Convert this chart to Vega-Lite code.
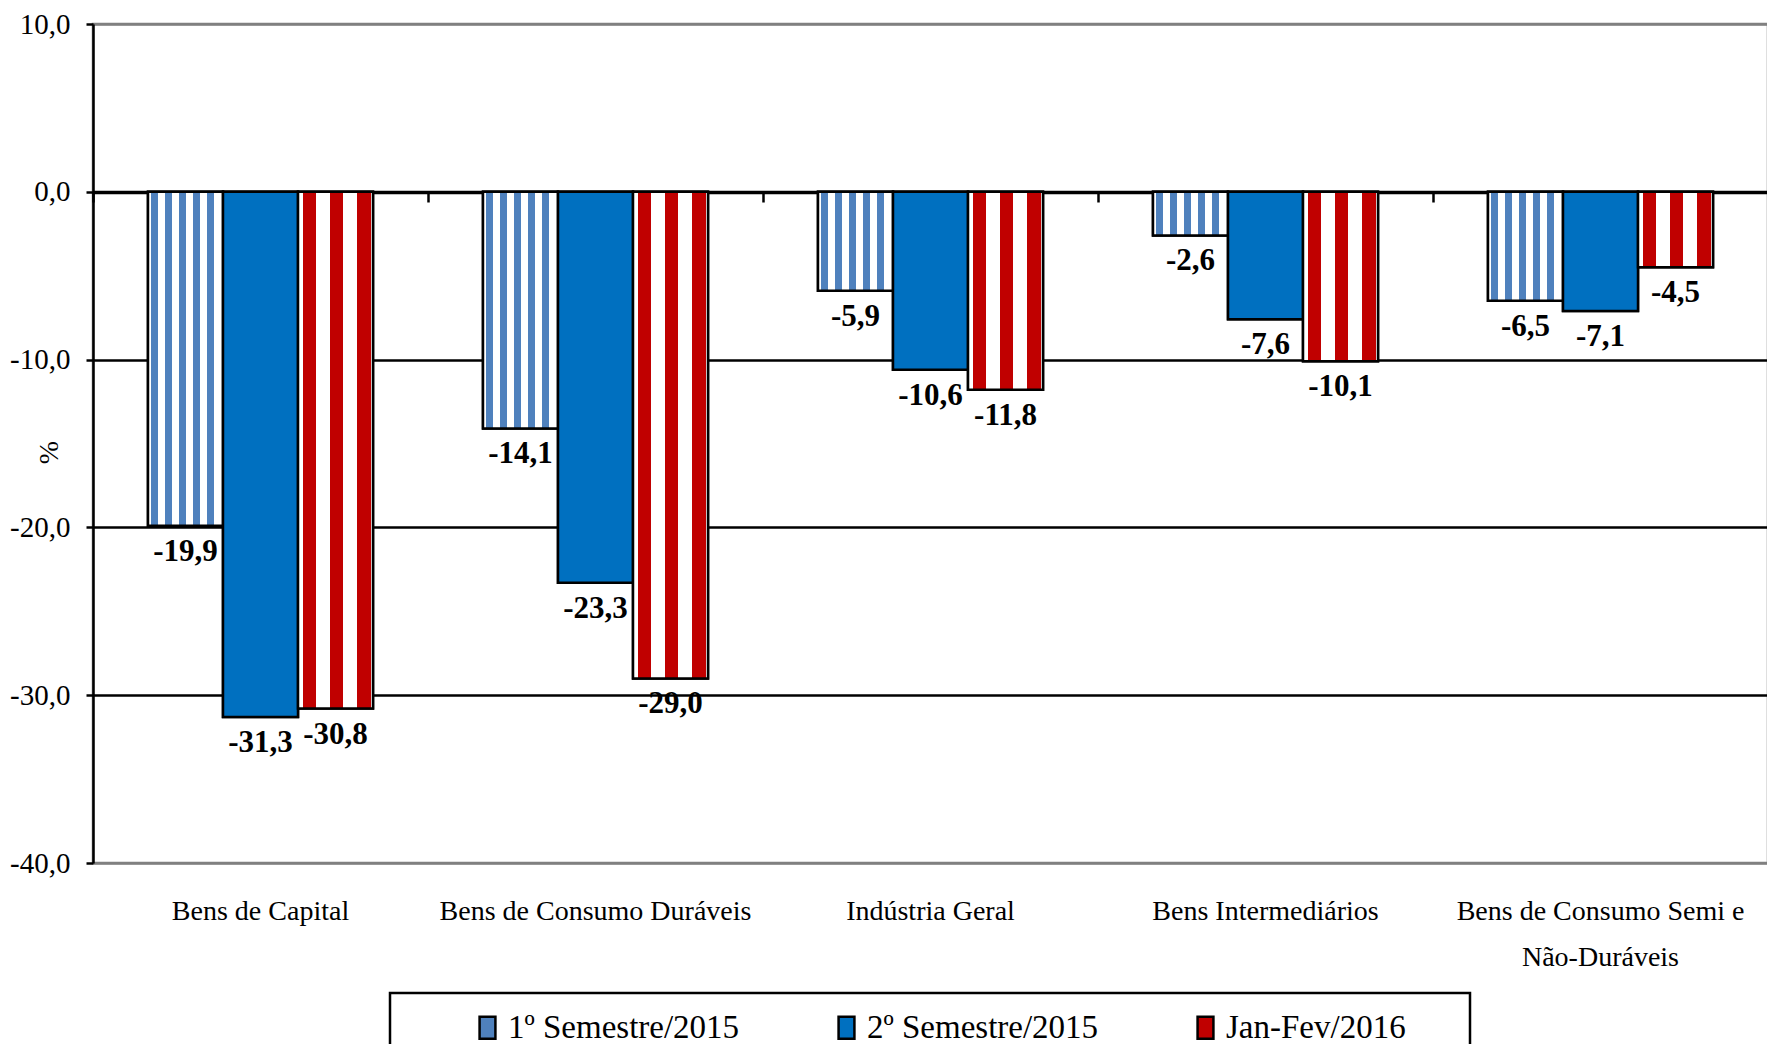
{
  "$schema": "https://vega.github.io/schema/vega-lite/v6.json",
  "width": 1675,
  "height": 839,
  "autosize": {"type": "none"},
  "padding": {"left": 93, "top": 24, "right": 0, "bottom": 181},
  "background": "white",
  "data": {
    "values": [
      {"cat": "Bens de Capital", "serie": "1º Semestre/2015", "valor": -19.9},
      {"cat": "Bens de Capital", "serie": "2º Semestre/2015", "valor": -31.3},
      {"cat": "Bens de Capital", "serie": "Jan-Fev/2016", "valor": -30.8},
      {"cat": "Bens de Consumo Duráveis", "serie": "1º Semestre/2015", "valor": -14.1},
      {"cat": "Bens de Consumo Duráveis", "serie": "2º Semestre/2015", "valor": -23.3},
      {"cat": "Bens de Consumo Duráveis", "serie": "Jan-Fev/2016", "valor": -29.0},
      {"cat": "Indústria Geral", "serie": "1º Semestre/2015", "valor": -5.9},
      {"cat": "Indústria Geral", "serie": "2º Semestre/2015", "valor": -10.6},
      {"cat": "Indústria Geral", "serie": "Jan-Fev/2016", "valor": -11.8},
      {"cat": "Bens Intermediários", "serie": "1º Semestre/2015", "valor": -2.6},
      {"cat": "Bens Intermediários", "serie": "2º Semestre/2015", "valor": -7.6},
      {"cat": "Bens Intermediários", "serie": "Jan-Fev/2016", "valor": -10.1},
      {"cat": "Bens de Consumo Semi e Não-Duráveis", "serie": "1º Semestre/2015", "valor": -6.5},
      {"cat": "Bens de Consumo Semi e Não-Duráveis", "serie": "2º Semestre/2015", "valor": -7.1},
      {"cat": "Bens de Consumo Semi e Não-Duráveis", "serie": "Jan-Fev/2016", "valor": -4.5}
    ]
  },
  "layer": [
    {
      "mark": {"type": "bar", "stroke": "black", "strokeWidth": 2.5},
      "encoding": {
        "x": {
          "field": "cat", "type": "nominal", "sort": null,
          "scale": {"paddingInner": 0, "paddingOuter": 0},
          "axis": {
            "orient": "bottom", "title": null, "domain": false, "ticks": false, "tickSize": 0, "grid": false,
            "labelAngle": 0, "labelFont": "Liberation Serif", "labelFontSize": 28, "labelColor": "black",
            "labelPadding": 34, "labelLimit": 500, "labelLineHeight": 46, "labelBaseline": "top",
            "labelExpr": "datum.label == 'Bens de Consumo Semi e Não-Duráveis' ? ['Bens de Consumo Semi e', 'Não-Duráveis'] : datum.label"
          }
        },
        "xOffset": {
          "field": "serie", "type": "nominal", "sort": null,
          "scale": {"paddingInner": 0, "paddingOuter": 0.733}
        },
        "y": {
          "field": "valor", "type": "quantitative",
          "scale": {"domain": [-40, 10], "nice": false, "zero": false},
          "axis": {
            "values": [-40, -30, -20, -10, 0, 10], "format": ".1f",
            "title": "%", "titleFont": "Liberation Serif", "titleFontSize": 28, "titleFontWeight": "normal",
            "titleColor": "black", "titleX": -44, "titleY": 428, "titleAngle": -90,
            "titleAlign": "center", "titleBaseline": "middle",
            "labelFont": "Liberation Serif", "labelFontSize": 29, "labelColor": "black", "labelPadding": 16,
            "domain": true, "domainColor": "black", "domainWidth": 2.5,
            "ticks": true, "tickColor": "black", "tickWidth": 2.5, "tickSize": 7,
            "grid": true, "gridWidth": 2.5,
            "gridColor": {"condition": {"test": "datum.value === 10 || datum.value === -40", "value": "#808080"}, "value": "black"}
          }
        },
        "fill": {
          "field": "serie", "type": "nominal", "sort": null,
          "scale": {
            "domain": ["1º Semestre/2015", "2º Semestre/2015", "Jan-Fev/2016"],
            "range": ["#4F81BD", "#0070C0", "#C00000"]
          },
          "legend": {
            "title": " ", "titleOrient": "right", "titlePadding": 46, "titleFontSize": 20,
            "orient": "none", "legendX": 297, "legendY": 969,
            "direction": "horizontal", "columns": 3, "gridAlign": "all",
            "padding": 18, "strokeColor": "black", "fillColor": "white",
            "symbolOffset": 63, "labelOffset": 4, "columnPadding": 27, "labelLimit": 500,
            "encode": {"legend": {"update": {"strokeWidth": {"value": 2.5}}}}
          }
        }
      }
    },
    {
      "mark": {"type": "bar", "stroke": "black", "strokeWidth": 2.5},
      "encoding": {
        "x": {"field": "cat", "type": "nominal", "sort": null, "axis": null},
        "xOffset": {"field": "serie", "type": "nominal", "sort": null},
        "y": {"field": "valor", "type": "quantitative"},
        "fill": {
          "condition": [
            {"test": "datum.serie === '1º Semestre/2015'", "value": {"gradient": "linear", "x1": 0, "y1": 0, "x2": 1, "y2": 0, "stops": [
                {"offset": 0, "color": "#FFFFFF"}, {"offset": 0.04, "color": "#FFFFFF"},
                {"offset": 0.04, "color": "#4F81BD"}, {"offset": 0.133, "color": "#4F81BD"},
                {"offset": 0.133, "color": "#FFFFFF"}, {"offset": 0.227, "color": "#FFFFFF"},
                {"offset": 0.227, "color": "#4F81BD"}, {"offset": 0.32, "color": "#4F81BD"},
                {"offset": 0.32, "color": "#FFFFFF"}, {"offset": 0.413, "color": "#FFFFFF"},
                {"offset": 0.413, "color": "#4F81BD"}, {"offset": 0.507, "color": "#4F81BD"},
                {"offset": 0.507, "color": "#FFFFFF"}, {"offset": 0.6, "color": "#FFFFFF"},
                {"offset": 0.6, "color": "#4F81BD"}, {"offset": 0.693, "color": "#4F81BD"},
                {"offset": 0.693, "color": "#FFFFFF"}, {"offset": 0.787, "color": "#FFFFFF"},
                {"offset": 0.787, "color": "#4F81BD"}, {"offset": 0.88, "color": "#4F81BD"},
                {"offset": 0.88, "color": "#FFFFFF"}, {"offset": 1, "color": "#FFFFFF"}
              ]}},
            {"test": "datum.serie === 'Jan-Fev/2016'", "value": {"gradient": "linear", "x1": 0, "y1": 0, "x2": 1, "y2": 0, "stops": [
                {"offset": 0, "color": "#FFFFFF"}, {"offset": 0.067, "color": "#FFFFFF"},
                {"offset": 0.067, "color": "#C00000"}, {"offset": 0.24, "color": "#C00000"},
                {"offset": 0.24, "color": "#FFFFFF"}, {"offset": 0.427, "color": "#FFFFFF"},
                {"offset": 0.427, "color": "#C00000"}, {"offset": 0.6, "color": "#C00000"},
                {"offset": 0.6, "color": "#FFFFFF"}, {"offset": 0.787, "color": "#FFFFFF"},
                {"offset": 0.787, "color": "#C00000"}, {"offset": 0.973, "color": "#C00000"},
                {"offset": 0.973, "color": "#FFFFFF"}, {"offset": 1, "color": "#FFFFFF"}
              ]}}
          ],
          "value": "#0070C0"
        }
      }
    },
    {
      "mark": {"type": "text", "baseline": "top", "align": "center", "dy": 11, "font": "Liberation Serif", "fontSize": 31, "fontWeight": "bold", "color": "black"},
      "encoding": {
        "x": {
          "field": "cat", "type": "nominal", "sort": null,
          "axis": {
            "orient": "bottom", "offset": -671, "title": null, "labels": false, "grid": false,
            "domain": true, "domainColor": "black", "domainWidth": 3.5,
            "ticks": true, "tickColor": "black", "tickWidth": 2.5, "tickSize": 10, "bandPosition": 0
          }
        },
        "xOffset": {"field": "serie", "type": "nominal", "sort": null},
        "y": {"field": "valor", "type": "quantitative"},
        "text": {"field": "valor", "type": "quantitative", "format": ".1f"}
      }
    }
  ],
  "resolve": {"axis": {"x": "independent"}},
  "config": {
    "view": {"stroke": "#808080", "strokeWidth": 2.5},
    "legend": {
      "labelFont": "Liberation Serif", "labelFontSize": 33, "labelColor": "black",
      "symbolType": "M-0.72,-1H0.72V1H-0.72Z", "symbolSize": 484,
      "symbolStrokeColor": "black", "symbolStrokeWidth": 2.5
    },
    "locale": {"number": {"decimal": ",", "thousands": ".", "grouping": [3], "currency": ["R$", ""], "minus": "-"}}
  }
}
